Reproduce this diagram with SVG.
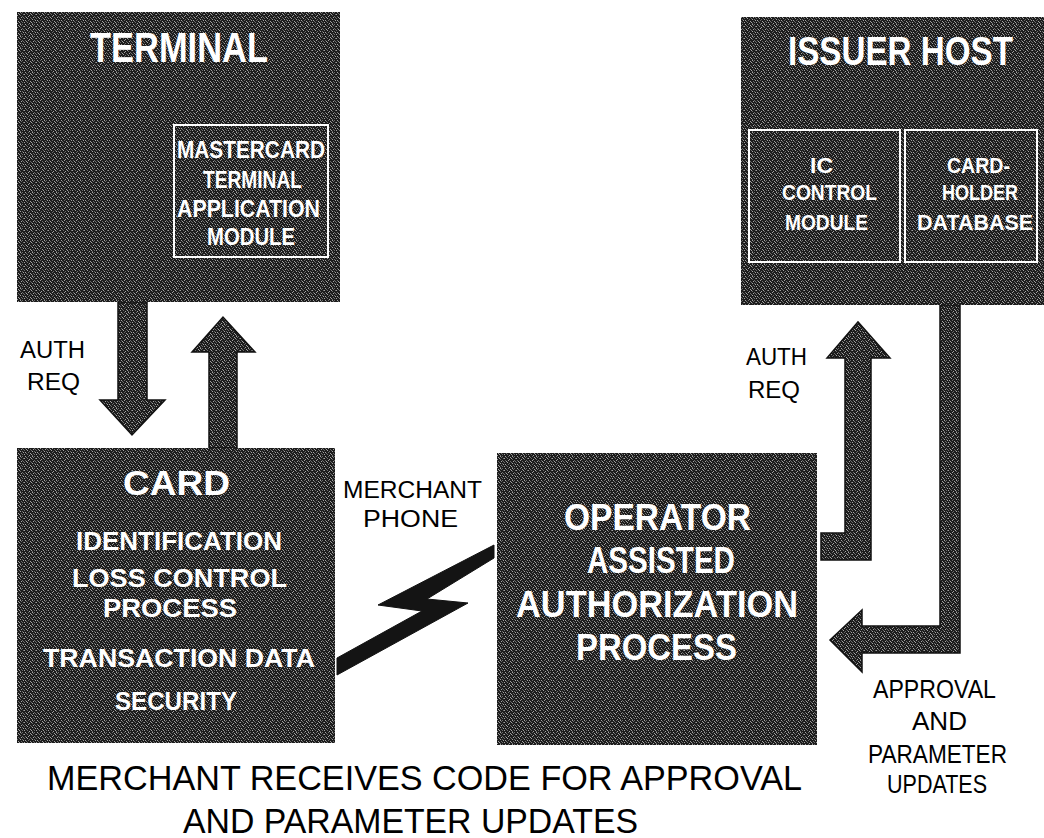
<svg xmlns="http://www.w3.org/2000/svg" width="1044" height="838" viewBox="0 0 1044 838">
  <defs>
    <!-- halftone screen used for the dark panels and the flow arrows -->
    <pattern id="screen" width="12" height="12" patternUnits="userSpaceOnUse">
      <rect width="12" height="12" fill="#1c1c1c"/>
      <path fill="#a3a3a3" d="M1 0h1v1h-1z M8 0h1v1h-1z M6 1h1v1h-1z M0 2h1v1h-1z M7 2h1v1h-1z M5 3h1v1h-1z M4 4h1v1h-1z M2 5h1v1h-1z M9 5h1v1h-1z M3 6h1v1h-1z M8 7h1v1h-1z M1 8h1v1h-1z M11 8h1v1h-1z M6 9h1v1h-1z M0 10h1v1h-1z M7 10h1v1h-1z M5 11h1v1h-1z"/>
      <path fill="#6b6b6b" d="M4 0h1v1h-1z M10 0h1v1h-1z M2 1h1v1h-1z M9 1h1v1h-1z M3 2h1v1h-1z M11 2h1v1h-1z M8 3h1v1h-1z M1 4h1v1h-1z M10 4h1v1h-1z M6 5h1v1h-1z M11 5h1v1h-1z M0 6h1v1h-1z M7 6h1v1h-1z M5 7h1v1h-1z M10 7h1v1h-1z M4 8h1v1h-1z M2 9h1v1h-1z M9 9h1v1h-1z M3 10h1v1h-1z M10 10h1v1h-1z M8 11h1v1h-1z"/>
    </pattern>
  </defs>
  <style>
    .panel { fill: url(#screen); shape-rendering: crispEdges; }
    .sub { fill: none; stroke: #ffffff; stroke-width: 2; }
    .flow { fill: url(#screen); stroke: #111111; stroke-width: 1.5; stroke-linejoin: miter; }
    .bolt { fill: #141414; stroke: #111111; stroke-width: 1; stroke-linejoin: miter; }
    .hd { font-family: "Liberation Sans", "DejaVu Sans", sans-serif; font-weight: bold; fill: #ffffff; text-anchor: middle; }
    .lbl { font-family: "Liberation Sans", "DejaVu Sans", sans-serif; fill: #000000; text-anchor: middle; }
  </style>

  <rect width="1044" height="838" fill="#ffffff"/>

  <!-- flow arrows and phone link -->
  <g id="connectors">
    <polygon class="flow" points="118,302 147,302 147,400 165,400 132,435 100,400 118,400"/>
    <polygon class="flow" points="209,448 209,352 192,352 223,317 255,352 237,352 237,448"/>
    <polygon class="flow" points="821,533 845,533 845,358 827,358 858,322 890,358 871,358 871,560 821,560"/>
    <polygon class="flow" points="940,305 960,305 960,653 862,653 862,672 830,640 862,610 862,626 940,626"/>
    <!-- merchant phone line (lightning bolt) -->
    <polygon class="bolt" points="337,675 468,603 427,599 494,558 494,545 378,605 422,611 337,658"/>
  </g>

  <!-- TERMINAL -->
  <g id="terminal">
    <rect class="panel" x="17" y="12" width="323" height="290"/>
    <text class="hd" x="179" y="62" font-size="42" textLength="178" lengthAdjust="spacingAndGlyphs">TERMINAL</text>
    <g id="terminal-app-module">
      <rect class="sub" x="174" y="125" width="154" height="132"/>
      <text class="hd" x="251" y="158" font-size="23" textLength="148" lengthAdjust="spacingAndGlyphs">MASTERCARD</text>
      <text class="hd" x="252.5" y="188" font-size="23" textLength="99" lengthAdjust="spacingAndGlyphs">TERMINAL</text>
      <text class="hd" x="248.5" y="217" font-size="23" textLength="143" lengthAdjust="spacingAndGlyphs">APPLICATION</text>
      <text class="hd" x="251" y="245" font-size="23" textLength="88" lengthAdjust="spacingAndGlyphs">MODULE</text>
    </g>
  </g>

  <!-- ISSUER HOST -->
  <g id="issuer-host">
    <rect class="panel" x="741" y="17" width="303" height="288"/>
    <text class="hd" x="900.5" y="65" font-size="41" textLength="225" lengthAdjust="spacingAndGlyphs">ISSUER HOST</text>
    <g id="ic-control-module">
      <rect class="sub" x="749" y="130" width="151" height="132"/>
      <text class="hd" x="821.5" y="173" font-size="22" textLength="23" lengthAdjust="spacingAndGlyphs">IC</text>
      <text class="hd" x="829.5" y="200" font-size="22" textLength="95" lengthAdjust="spacingAndGlyphs">CONTROL</text>
      <text class="hd" x="826.5" y="230" font-size="22" textLength="83" lengthAdjust="spacingAndGlyphs">MODULE</text>
    </g>
    <g id="cardholder-database">
      <rect class="sub" x="905" y="130" width="132" height="132"/>
      <text class="hd" x="978.5" y="173" font-size="22" textLength="63" lengthAdjust="spacingAndGlyphs">CARD-</text>
      <text class="hd" x="980" y="200" font-size="22" textLength="76" lengthAdjust="spacingAndGlyphs">HOLDER</text>
      <text class="hd" x="975" y="230" font-size="22" textLength="116" lengthAdjust="spacingAndGlyphs">DATABASE</text>
    </g>
  </g>

  <!-- CARD -->
  <g id="card">
    <rect class="panel" x="17" y="448" width="318" height="295"/>
    <text class="hd" x="176.5" y="495" font-size="35" textLength="107" lengthAdjust="spacingAndGlyphs">CARD</text>
    <text class="hd" x="179" y="550" font-size="26" textLength="206" lengthAdjust="spacingAndGlyphs">IDENTIFICATION</text>
    <text class="hd" x="179.5" y="587" font-size="26" textLength="215" lengthAdjust="spacingAndGlyphs">LOSS CONTROL</text>
    <text class="hd" x="170" y="617" font-size="26" textLength="134" lengthAdjust="spacingAndGlyphs">PROCESS</text>
    <text class="hd" x="179" y="667" font-size="26" textLength="272" lengthAdjust="spacingAndGlyphs">TRANSACTION DATA</text>
    <text class="hd" x="176" y="710" font-size="26" textLength="122" lengthAdjust="spacingAndGlyphs">SECURITY</text>
  </g>

  <!-- OPERATOR ASSISTED AUTHORIZATION PROCESS -->
  <g id="operator-process">
    <rect class="panel" x="497" y="453" width="320" height="292"/>
    <text class="hd" x="657.5" y="530" font-size="37" textLength="187" lengthAdjust="spacingAndGlyphs">OPERATOR</text>
    <text class="hd" x="661" y="573" font-size="37" textLength="148" lengthAdjust="spacingAndGlyphs">ASSISTED</text>
    <text class="hd" x="657" y="617" font-size="37" textLength="282" lengthAdjust="spacingAndGlyphs">AUTHORIZATION</text>
    <text class="hd" x="656.5" y="660" font-size="37" textLength="161" lengthAdjust="spacingAndGlyphs">PROCESS</text>
  </g>

  <!-- connector labels -->
  <g id="labels">
    <text class="lbl" x="52.5" y="358" font-size="23" textLength="65" lengthAdjust="spacingAndGlyphs">AUTH</text>
    <text class="lbl" x="53.5" y="390" font-size="23" textLength="53" lengthAdjust="spacingAndGlyphs">REQ</text>
    <text class="lbl" x="412.5" y="498" font-size="23" textLength="139" lengthAdjust="spacingAndGlyphs">MERCHANT</text>
    <text class="lbl" x="410.5" y="527" font-size="23" textLength="95" lengthAdjust="spacingAndGlyphs">PHONE</text>
    <text class="lbl" x="776.5" y="365" font-size="24" textLength="61" lengthAdjust="spacingAndGlyphs">AUTH</text>
    <text class="lbl" x="774" y="398" font-size="24" textLength="52" lengthAdjust="spacingAndGlyphs">REQ</text>
    <text class="lbl" x="934.5" y="698" font-size="25" textLength="123" lengthAdjust="spacingAndGlyphs">APPROVAL</text>
    <text class="lbl" x="939.5" y="730" font-size="25" textLength="55" lengthAdjust="spacingAndGlyphs">AND</text>
    <text class="lbl" x="937.5" y="763" font-size="25" textLength="139" lengthAdjust="spacingAndGlyphs">PARAMETER</text>
    <text class="lbl" x="937" y="793" font-size="25" textLength="100" lengthAdjust="spacingAndGlyphs">UPDATES</text>
  </g>

  <!-- caption -->
  <g id="caption">
    <text class="lbl" x="424.5" y="790" font-size="35" textLength="755" lengthAdjust="spacingAndGlyphs">MERCHANT RECEIVES CODE FOR APPROVAL</text>
    <text class="lbl" x="410.5" y="833" font-size="35" textLength="455" lengthAdjust="spacingAndGlyphs">AND PARAMETER UPDATES</text>
  </g>
</svg>
